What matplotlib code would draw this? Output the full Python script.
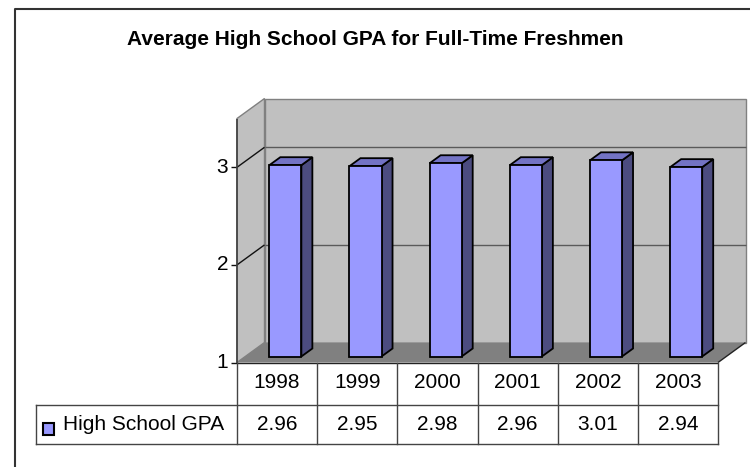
import matplotlib
matplotlib.use("Agg")
import matplotlib.pyplot as plt
from matplotlib.patches import Polygon, Rectangle
from matplotlib.lines import Line2D
from matplotlib.transforms import blended_transform_factory

years = ["1998", "1999", "2000", "2001", "2002", "2003"]
gpa = [2.96, 2.95, 2.98, 2.96, 3.01, 2.94]
series_name = "High School GPA"
title = "Average High School GPA for Full-Time Freshmen"
y_ticks = [1, 2, 3]
y_min, y_max = 1, 3.5

plt.rcParams['font.family'] = ['Liberation Sans', 'DejaVu Sans']

W, H = 750, 467
fig = plt.figure(figsize=(W / 100, H / 100), dpi=100)

# front plane of the 3d box (pixels)
x_left, x_right = 237, 718
y_bot, y_top = 362.5, 118.5
ax = fig.add_axes([x_left / W, 1 - y_bot / H, (x_right - x_left) / W, (y_bot - y_top) / H])
n = len(years)
ax.set_xlim(0, n)
ax.set_ylim(y_min, y_max)
ax.axis('off')

px_x = (x_right - x_left) / n
px_y = (y_bot - y_top) / (y_max - y_min)
DX = 27.5 / px_x   # full depth shift, data units
DY = 20 / px_y

fs = 15


def P(x, y, z):
    return (x + DX * z, y + DY * z)


def face(pts, fc, ec='none', lw=1.0, z=1):
    ax.add_patch(Polygon(pts, closed=True, fc=fc, ec=ec, lw=lw,
                         clip_on=False, zorder=z, joinstyle='miter'))


def seg(p0, p1, color, lw=1.0, z=2):
    ax.plot([p0[0], p1[0]], [p0[1], p1[1]], color=color, lw=lw,
            clip_on=False, zorder=z, solid_capstyle='butt')


# walls and floor
face([P(0, y_min, 1), P(n, y_min, 1), P(n, y_max, 1), P(0, y_max, 1)], '#C0C0C0', '#808080', 1.0, 1)
face([P(0, y_min, 0), P(0, y_min, 1), P(0, y_max, 1), P(0, y_max, 0)], '#C0C0C0', '#808080', 1.0, 1)
face([P(0, y_min, 0), P(n, y_min, 0), P(n, y_min, 1), P(0, y_min, 1)], '#808080', 'none', 1.0, 1.5)
seg(P(0, y_min, 0), P(n, y_min, 0), '#222222', 1.0, 2)
seg(P(n, y_min, 0), P(n, y_min, 1), '#222222', 1.0, 2)

# gridlines and ticks
for v in y_ticks:
    if v > y_min:
        seg(P(0, v, 1), P(n, v, 1), '#5a5a5a', 1.0, 1.8)
        seg(P(0, v, 0), P(0, v, 1), '#111111', 1.0, 1.8)
    seg((-6 / px_x, v), (0, v), '#111111', 1.0, 2)
    ax.text(-9 / px_x, v, str(v), ha='right', va='center', fontsize=fs, color='black')
seg(P(0, y_min, 0), P(0, y_max, 0), '#404040', 1.2, 2)

# bars
bw, z0, z1 = 0.4, 0.3, 0.7
for i, v in enumerate(gpa):
    x0, x1 = i + 0.5 - bw / 2, i + 0.5 + bw / 2
    face([P(x1, y_min, z0), P(x1, y_min, z1), P(x1, v, z1), P(x1, v, z0)], '#4C4C80', 'black', 1.3, 3)
    face([P(x0, v, z0), P(x1, v, z0), P(x1, v, z1), P(x0, v, z1)], '#7373C4', 'black', 1.3, 3)
    face([P(x0, y_min, z0), P(x1, y_min, z0), P(x1, v, z0), P(x0, v, z0)], '#9999FF', 'black', 1.3, 3.1)

# data table
tr = blended_transform_factory(ax.transData, fig.transFigure)
row_top, row_mid, row_bot = 362.5, 405, 444
tab_left = 36
lc = '#444444'
for i in range(n + 1):
    ax.add_line(Line2D([i, i], [1 - row_top / H, 1 - row_bot / H], transform=tr, color=lc, lw=1.0, clip_on=False))
for yy in (row_mid, row_bot):
    fig.add_artist(Line2D([tab_left / W, x_right / W], [1 - yy / H, 1 - yy / H], color=lc, lw=1.0))
fig.add_artist(Line2D([tab_left / W, tab_left / W], [1 - row_mid / H, 1 - row_bot / H], color=lc, lw=1.0))

for i, (yr, v) in enumerate(zip(years, gpa)):
    ax.text(i + 0.5, 1 - 383 / H, yr, transform=tr, ha='center', va='center', fontsize=fs)
    ax.text(i + 0.5, 1 - 425 / H, f"{v:.2f}", transform=tr, ha='center', va='center', fontsize=fs)

fig.add_artist(Rectangle((42.5 / W, 1 - 435 / H), 11.5 / W, 12 / H, fc='#9999FF', ec='black', lw=1.5))
fig.text(63 / W, 1 - 425 / H, series_name, ha='left', va='center', fontsize=fs)

# title
fig.text(0.5, 1 - 45 / H, title, ha='center', va='baseline', fontsize=15, fontweight='bold')

# chart area border (left and top visible)
fig.add_artist(Line2D([14.5 / W, 14.5 / W, 1], [0, 1 - 9 / H, 1 - 9 / H], color='#333333', lw=1.5))

fig.savefig("out.png", dpi=100)
